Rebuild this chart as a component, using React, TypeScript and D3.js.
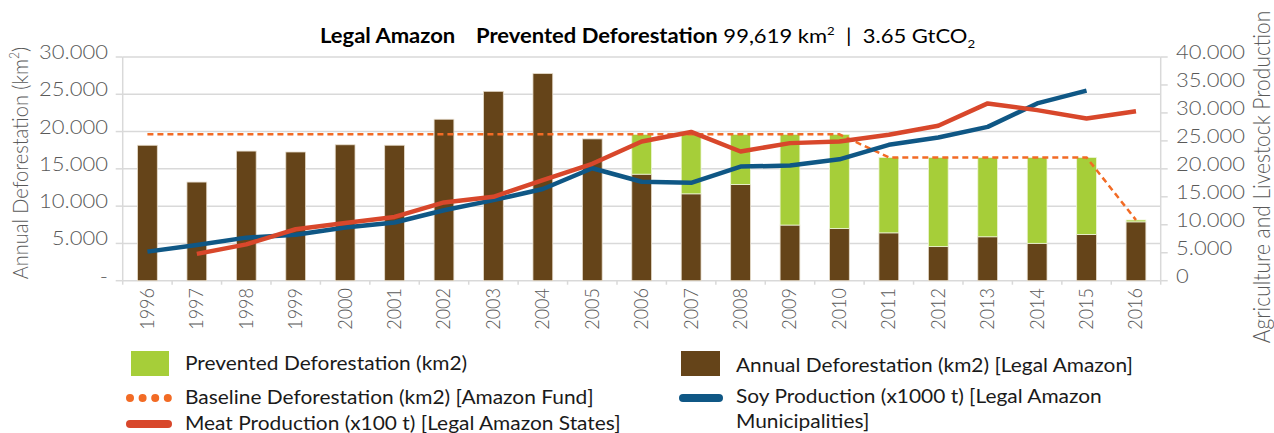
import * as d3 from "d3";

const YEARS = [
  "1996", "1997", "1998", "1999", "2000", "2001", "2002", "2003", "2004", "2005",
  "2006", "2007", "2008", "2009", "2010", "2011", "2012", "2013", "2014", "2015", "2016",
];

// km2, PRODES annual deforestation
const ANNUAL = [
  18161, 13227, 17383, 17259, 18226, 18165, 21651, 25396, 27772, 19014,
  14286, 11651, 12911, 7464, 7000, 6418, 4571, 5891, 5012, 6207, 7893,
];

// km2, stacked on top of annual deforestation
const PREVENTED = [
  0, 0, 0, 0, 0, 0, 0, 0, 0, 0,
  5339, 7974, 6714, 12161, 12625, 10113, 11960, 10640, 11519, 10324, 250,
];

const BASELINE = [
  19625, 19625, 19625, 19625, 19625, 19625, 19625, 19625, 19625, 19625,
  19625, 19625, 19625, 19625, 19625, 16531, 16531, 16531, 16531, 16531, 8143,
];

// right axis
const SOY = [
  5200, 6400, 7700, 8200, 9500, 10400, 12600, 14400, 16400, 20100,
  17700, 17500, 20400, 20600, 21700, 24300, 25600, 27500, 31700, 34000, null,
];

const MEAT = [
  null, 4800, 6500, 9200, 10300, 11400, 14000, 15000, 18000, 20900,
  24900, 26600, 23100, 24600, 24900, 26100, 27700, 31700, 30500, 29000, 30300,
];

const LEFT_TICKS = [0, 5000, 10000, 15000, 20000, 25000, 30000];
const RIGHT_TICKS = [0, 5000, 10000, 15000, 20000, 25000, 30000, 35000, 40000];

const W = 1274;
const H = 433;
const PLOT = { left: 122.7, right: 1160.7, top: 57, bottom: 280.7 };
const SX = 1.1; // the source text is drawn a bit wide

const C_BROWN = "#654419";
const C_GREEN = "#a6ce39";
const C_BLUE = "#0f5785";
const C_RED = "#d8472b";
const C_ORANGE = "#f26b25";
const C_GRID = "#d9d9d9";
const C_TEXT = "#595959";
const FONT = "Lato, 'Open Sans', sans-serif";

const fmt = d3.formatLocale({ decimal: ",", thousands: ".", grouping: [3], currency: ["", ""] }).format(",.0f");

// horizontal text, stretched slightly like the source
const T = ({ x, y, children, ...rest }: any) => (
  <text transform={`translate(${x},${y}) scale(${SX},1)`} style={{ whiteSpace: "pre" }} {...rest}>
    {children}
  </text>
);

export default function App() {
  const x = d3
    .scaleBand()
    .domain(YEARS)
    .range([PLOT.left, PLOT.right])
    .paddingInner(0.6)
    .paddingOuter(0.3);
  const yL = d3.scaleLinear().domain([0, 30000]).range([PLOT.bottom, PLOT.top]);
  const yR = d3.scaleLinear().domain([0, 40000]).range([PLOT.bottom, PLOT.top]);
  const cx = (i: number) => (x(YEARS[i]) as number) + x.bandwidth() / 2;
  const step = x.step();

  const lineL = d3
    .line<number | null>()
    .defined((d) => d != null)
    .x((_, i) => cx(i))
    .y((d) => yL(d as number));
  const lineR = d3
    .line<number | null>()
    .defined((d) => d != null)
    .x((_, i) => cx(i))
    .y((d) => yR(d as number));

  return (
    <svg width={W} height={H} style={{ position: "absolute", left: 0, top: 0, background: "#fff" }} fontFamily={FONT}>
      {/* title */}
      <T x={320} y={43} fontSize={20} fontWeight={700} fill="#000">Legal Amazon</T>
      <T x={476} y={43} fontSize={20} fill="#000">
        <tspan fontWeight={700}>Prevented Deforestation</tspan>
        <tspan> 99,619 km</tspan>
        <tspan fontSize={12} dy={-8}>2</tspan>
        <tspan dy={8}>{"  |  "}</tspan>
        <tspan>3.65 GtCO</tspan>
        <tspan fontSize={12} dy={5}>2</tspan>
      </T>

      {/* gridlines */}
      {LEFT_TICKS.map((t) => (
        <line key={t} x1={PLOT.left} x2={PLOT.right} y1={yL(t)} y2={yL(t)} stroke={C_GRID} strokeWidth={1.5} />
      ))}
      {/* left axis */}
      <line x1={PLOT.left} x2={PLOT.left} y1={PLOT.top} y2={PLOT.bottom} stroke={C_GRID} strokeWidth={1.5} />
      {LEFT_TICKS.map((t) => (
        <g key={"l" + t}>
          <line x1={PLOT.left - 7} x2={PLOT.left} y1={yL(t)} y2={yL(t)} stroke={C_GRID} strokeWidth={1.5} />
          <T x={108} y={yL(t) + 2} textAnchor="end" fontSize={20} fontWeight={300} fill={C_TEXT}>
            {t === 0 ? "-" : fmt(t)}
          </T>
        </g>
      ))}
      {/* right axis */}
      <line x1={PLOT.right} x2={PLOT.right} y1={PLOT.top} y2={PLOT.bottom} stroke={C_GRID} strokeWidth={1.5} />
      {RIGHT_TICKS.map((t) => (
        <g key={"r" + t}>
          <line x1={PLOT.right} x2={PLOT.right + 7} y1={yR(t)} y2={yR(t)} stroke={C_GRID} strokeWidth={1.5} />
          <T x={1176} y={yR(t) + 2} fontSize={20} fontWeight={300} fill={C_TEXT}>
            {fmt(t)}
          </T>
        </g>
      ))}
      {/* x axis ticks and labels */}
      {YEARS.map((yr, i) => (
        <g key={yr}>
          <line
            x1={PLOT.left + i * step}
            x2={PLOT.left + i * step}
            y1={PLOT.bottom}
            y2={PLOT.bottom + 4}
            stroke={C_GRID}
            strokeWidth={1.5}
          />
          <text
            transform={`translate(${cx(i) + 6.5},288) rotate(-90) scale(1,${SX})`}
            textAnchor="end"
            fontSize={18}
            fontWeight={300}
            fill={C_TEXT}
          >
            {yr}
          </text>
        </g>
      ))}
      <line x1={PLOT.right} x2={PLOT.right} y1={PLOT.bottom} y2={PLOT.bottom + 4} stroke={C_GRID} strokeWidth={1.5} />

      {/* bars */}
      {YEARS.map((yr, i) => (
        <g key={"b" + yr}>
          <rect
            x={x(yr)}
            width={x.bandwidth()}
            y={yL(ANNUAL[i])}
            height={yL(0) - yL(ANNUAL[i])}
            fill={C_BROWN}
            stroke="#e6dccb"
            strokeWidth={0.8}
          />
          {PREVENTED[i] > 0 && (
            <rect
              x={x(yr)}
              width={x.bandwidth()}
              y={yL(ANNUAL[i] + PREVENTED[i])}
              height={yL(ANNUAL[i]) - yL(ANNUAL[i] + PREVENTED[i])}
              fill={C_GREEN}
              stroke="#eef5d8"
              strokeWidth={0.8}
            />
          )}
        </g>
      ))}

      {/* lines */}
      <path d={lineL(BASELINE) as string} fill="none" stroke={C_ORANGE} strokeWidth={2.5} strokeDasharray="6 4" />
      <path d={lineR(SOY) as string} fill="none" stroke={C_BLUE} strokeWidth={4.5} strokeLinejoin="round" />
      <path d={lineR(MEAT) as string} fill="none" stroke={C_RED} strokeWidth={4.5} strokeLinejoin="round" />

      {/* axis titles */}
      <text transform={`translate(28,163) rotate(-90) scale(1,${SX})`} textAnchor="middle" fontSize={20} fontWeight={300} fill={C_TEXT}>
        Annual Deforestation (km<tspan fontSize={12} dy={-8}>2</tspan>
        <tspan dy={8}>)</tspan>
      </text>
      <text transform={`translate(1270,177) rotate(-90) scale(1,${SX})`} textAnchor="middle" fontSize={21} fontWeight={300} fill={C_TEXT}>
        Agriculture and Livestock Production
      </text>

      {/* legend */}
      <g fontSize={19} fill="#1a1a1a">
        <rect x={131} y={351} width={38} height={25} fill={C_GREEN} />
        <T x={185} y={370}>Prevented Deforestation (km2)</T>
        <rect x={681} y={351} width={39} height={25} fill={C_BROWN} />
        <T x={736} y={372}>Annual Deforestation (km2) [Legal Amazon]</T>

        <line x1={130} x2={168} y1={398} y2={398} stroke={C_ORANGE} strokeWidth={8} strokeLinecap="round" strokeDasharray="0 12.6" />
        <T x={185} y={404}>Baseline Deforestation (km2) [Amazon Fund]</T>
        <line x1={683} x2={719} y1={398} y2={398} stroke={C_BLUE} strokeWidth={8} strokeLinecap="round" />
        <T x={736} y={403}>Soy Production (x1000 t) [Legal Amazon</T>
        <T x={736} y={428}>Municipalities]</T>

        <line x1={130} x2={168} y1={424} y2={424} stroke={C_RED} strokeWidth={8} strokeLinecap="round" />
        <T x={185} y={430}>Meat Production (x100 t) [Legal Amazon States]</T>
      </g>
    </svg>
  );
}
